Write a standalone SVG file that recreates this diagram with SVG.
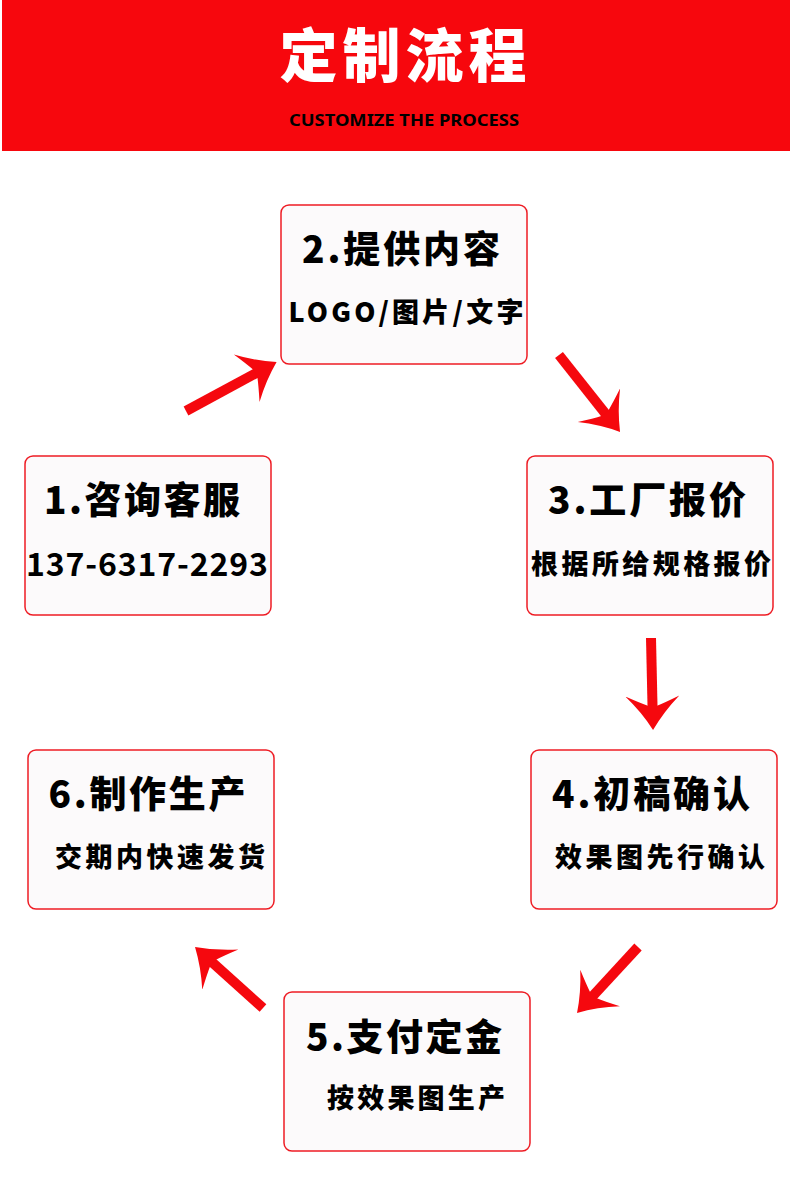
<svg xmlns="http://www.w3.org/2000/svg" width="790" height="1203" viewBox="0 0 790 1203">
<style>
.box{fill:#fcfafb;stroke:#ee1c24;stroke-width:1.5}
.t{font-family:"Noto Sans CJK SC","Noto Sans",sans-serif;font-weight:900;fill:#000;text-anchor:middle}
.h{font-size:37px}
.s{font-size:27px}
.arr{stroke:#f5080e;stroke-width:10;fill:none}
</style>
<defs>
<marker id="ah" markerUnits="userSpaceOnUse" viewBox="0 -28 34 56" markerWidth="34" markerHeight="56" refX="14" refY="0" orient="auto">
<path d="M34,0 Q16,-11 0,-27 Q7,-12 10,-4 L10,4 Q7,12 0,27 Q16,11 34,0 Z" fill="#f5080e"/>
</marker>
</defs>
<rect width="790" height="1203" fill="#fff"/>
<g id="header">
<rect x="2" y="0" width="788" height="151" fill="#f7070d"/>
<text x="403" y="77" class="t" style="font-size:58px;font-weight:900;fill:#fff" textLength="247" lengthAdjust="spacing">定制流程</text>
<text x="404" y="126" style="font-family:'Noto Sans','Liberation Sans',sans-serif;font-weight:700;font-size:16px;fill:#000;text-anchor:middle" textLength="230" lengthAdjust="spacingAndGlyphs">CUSTOMIZE THE PROCESS</text>
</g>
<g id="connectors">
<line class="arr" x1="186" y1="411" x2="259" y2="371.5" marker-end="url(#ah)"/>
<line class="arr" x1="559" y1="355" x2="607.6" y2="416.3" marker-end="url(#ah)"/>
<line class="arr" x1="651" y1="638" x2="652.6" y2="710" marker-end="url(#ah)"/>
<line class="arr" x1="638" y1="947" x2="590.6" y2="998.3" marker-end="url(#ah)"/>
<line class="arr" x1="263" y1="1008" x2="209.9" y2="960.3" marker-end="url(#ah)"/>
</g>
<g id="node1">
<rect class="box" x="25" y="456" width="246" height="159" rx="8"/>
<text class="t h" x="142" y="514" textLength="196" lengthAdjust="spacing">1.咨询客服</text>
<text class="t" style="font-size:32px;font-weight:700" x="147" y="576" textLength="242" lengthAdjust="spacing">137-6317-2293</text>
</g>
<g id="node2">
<rect class="box" x="281" y="205" width="246" height="159" rx="8"/>
<text class="t h" x="401" y="263" textLength="198" lengthAdjust="spacing">2.提供内容</text>
<text class="t s" x="406" y="322" textLength="235" lengthAdjust="spacing">LOGO/图片/文字</text>
</g>
<g id="node3">
<rect class="box" x="527" y="456" width="246" height="159" rx="8"/>
<text class="t h" x="647" y="514" textLength="198" lengthAdjust="spacing">3.工厂报价</text>
<text class="t s" x="651" y="574" textLength="240" lengthAdjust="spacing">根据所给规格报价</text>
</g>
<g id="node4">
<rect class="box" x="531" y="750" width="246" height="159" rx="8"/>
<text class="t h" x="651" y="808" textLength="198" lengthAdjust="spacing">4.初稿确认</text>
<text class="t s" x="660" y="867" textLength="210" lengthAdjust="spacing">效果图先行确认</text>
</g>
<g id="node5">
<rect class="box" x="284" y="992" width="246" height="159" rx="8"/>
<text class="t h" x="404" y="1051" textLength="196" lengthAdjust="spacing">5.支付定金</text>
<text class="t s" x="416" y="1108" textLength="178" lengthAdjust="spacing">按效果图生产</text>
</g>
<g id="node6">
<rect class="box" x="28" y="750" width="246" height="159" rx="8"/>
<text class="t h" x="147" y="808" textLength="197" lengthAdjust="spacing">6.制作生产</text>
<text class="t s" x="160" y="867" textLength="210" lengthAdjust="spacing">交期内快速发货</text>
</g>
</svg>
